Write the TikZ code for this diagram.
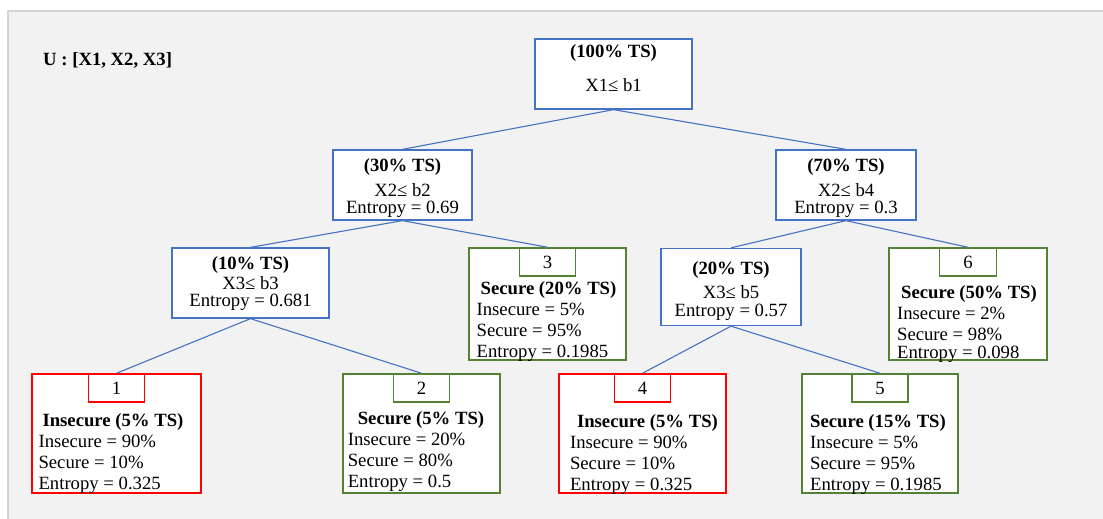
\documentclass[tikz,border=0pt]{standalone}
\usepackage{fontspec}
\setmainfont{Liberation Serif}

\definecolor{edgeblue}{HTML}{4472C4}
\definecolor{leafgreen}{HTML}{548235}
\definecolor{leafred}{HTML}{FF0000}
\definecolor{panelgray}{HTML}{F2F2F2}
\definecolor{panelline}{HTML}{D4D4D4}

\tikzset{
  split/.style={draw=edgeblue, line width=1.3pt, fill=white, align=center, inner sep=0pt},
  leaf/.style={draw=#1, line width=1.5pt, fill=white, inner sep=0pt},
  tab/.style={draw=#1, line width=1.5pt, fill=white, inner sep=0pt,
    minimum width=56pt, minimum height=28pt, anchor=north},
  leaftext/.style={align=left, inner sep=0pt},
  branch/.style={edgeblue, line width=1.1pt},
}

\begin{document}
\begin{tikzpicture}[x=1pt, y=-1pt, font=\fontsize{18.7pt}{21pt}\selectfont]
  \useasboundingbox (0,0) rectangle (1103,519);
  \fill[panelgray] (8,11) rectangle (1103,519);
  \draw[panelline, line width=1.5pt] (8,519) -- (8,11) -- (1103,11);

  \node[anchor=west, inner sep=0pt] (vars) at (43,60) {\textbf{U : [X1, X2, X3]}};

  % split nodes (the rules only move the lines up or down inside the box)
  \node[split, minimum width=157pt, minimum height=70pt] (root) at (613.5,74)
    {\textbf{(100\% TS)}\\[13pt] X1≤ b1\rule[-12pt]{0pt}{0pt}};
  \node[split, minimum width=139pt, minimum height=70pt] (ts30) at (402.5,185)
    {\rule{0pt}{20pt}\textbf{(30\% TS)}\\[4pt] X2≤ b2\\[-4pt] Entropy = 0.69};
  \node[split, minimum width=140pt, minimum height=70pt] (ts70) at (846,185)
    {\rule{0pt}{20pt}\textbf{(70\% TS)}\\[4pt] X2≤ b4\\[-4pt] Entropy = 0.3};
  \node[split, minimum width=157pt, minimum height=70pt] (ts10) at (250.5,283)
    {\rule{0pt}{15pt}\textbf{(10\% TS)}\\[-1pt] X3≤ b3\\[-4pt] Entropy = 0.681};
  \node[split, minimum width=140pt, minimum height=77pt] (ts20) at (731,287)
    {\rule{0pt}{22pt}\textbf{(20\% TS)}\\[3pt] X3≤ b5\\[-3pt] Entropy = 0.57};

  % leaves
  \node[leaf=leafred, minimum width=169pt, minimum height=119pt] (leaf1) at (116.5,433.5) {};
  \node[tab=leafred] (t1) at (leaf1.north) {1};
  \node[leaftext] (txt1) at (111,454)
    {\hspace*{4pt}\textbf{Insecure (5\% TS)}\\ Insecure = 90\%\\ Secure = 10\%\\ Entropy = 0.325};

  \node[leaf=leafgreen, minimum width=157pt, minimum height=119pt] (leaf2) at (421.5,433.5) {};
  \node[tab=leafgreen] (t2) at (leaf2.north) {2};
  \node[leaftext] (txt2) at (416,451.5)
    {\hspace*{10pt}\textbf{Secure (5\% TS)}\\ Insecure = 20\%\\ Secure = 80\%\\ Entropy = 0.5};

  \node[leaf=leafgreen, minimum width=157pt, minimum height=112pt] (leaf3) at (547.5,304) {};
  \node[tab=leafgreen] (t3) at (leaf3.north) {3};
  \node[leaftext] (txt3) at (546.5,322)
    {\hspace*{4pt}\textbf{Secure (20\% TS)}\\ Insecure = 5\%\\ Secure = 95\%\\ Entropy = 0.1985};

  \node[leaf=leafred, minimum width=167pt, minimum height=119pt] (leaf4) at (642.5,433.5) {};
  \node[tab=leafred] (t4) at (leaf4.north) {4};
  \node[leaftext] (txt4) at (644,454.5)
    {\hspace*{7pt}\textbf{Insecure (5\% TS)}\\ Insecure = 90\%\\ Secure = 10\%\\ Entropy = 0.325};

  \node[leaf=leafgreen, minimum width=156pt, minimum height=119pt] (leaf5) at (880,433.5) {};
  \node[tab=leafgreen] (t5) at (leaf5.north) {5};
  \node[leaftext] (txt5) at (878,454.5)
    {\textbf{Secure (15\% TS)}\\ Insecure = 5\%\\ Secure = 95\%\\ Entropy = 0.1985};

  \node[leaf=leafgreen, minimum width=158pt, minimum height=112pt] (leaf6) at (968,304) {};
  \node[tab=leafgreen, minimum width=57pt] (t6) at (leaf6.north) {6};
  \node[leaftext] (txt6) at (967,324)
    {\hspace*{4pt}\textbf{Secure (50\% TS)}\\ Insecure = 2\%\\ Secure = 98\%\\[-3pt] Entropy = 0.098};

  % branches
  \draw[branch] (root.south) -- (ts30.north);
  \draw[branch] (root.south) -- (ts70.north);
  \draw[branch] (ts30.south) -- (ts10.north);
  \draw[branch] (ts30.south) -- (t3.north);
  \draw[branch] (ts70.south) -- (ts20.north);
  \draw[branch] (ts70.south) -- (t6.north);
  \draw[branch] (ts10.south) -- (t1.north);
  \draw[branch] (ts10.south) -- (t2.north);
  \draw[branch] (ts20.south) -- (t4.north);
  \draw[branch] (ts20.south) -- (t5.north);
\end{tikzpicture}
\end{document}
